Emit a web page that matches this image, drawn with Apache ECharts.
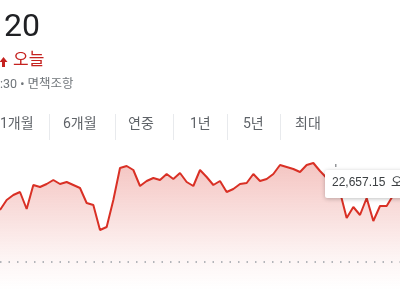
<!DOCTYPE html>
<html>
<head>
<meta charset="utf-8">
<script src="https://cdn.jsdelivr.net/npm/echarts@6/dist/echarts.min.js"></script>
<style>
html,body{margin:0;padding:0;background:#fff;}
#c{width:400px;height:300px;}
</style>
</head>
<body>
<div id="c"></div>
<script>
var categories = [];
for (var k = 0; k <= 60; k++) categories.push('t' + k);
var prices = [
  22500, 22600, 22650, 22680, 22510, 22750, 22730, 22760, 22800, 22760,
  22780, 22750, 22720, 22570, 22550, 22300, 22330, 22600, 22920, 22940,
  22900, 22740, 22790, 22820, 22800, 22860, 22810, 22870, 22780, 22740,
  22900, 22830, 22750, 22790, 22680, 22710, 22760, 22770, 22860, 22790,
  22810, 22860, 22950, 22930, 22910, 22880, 22950, 22970, 22890, 22820,
  22657.15, 22680, 22420, 22530, 22450, 22620, 22390, 22540, 22540, 22650,
  22630
];
var previousClose = 21980;
var hoverIndex = 50;
var headerValue = '20';
var changeLabel = '오늘';
var subLabel = ':30 • 면책조항';
var tabLabels = ['1개월', '6개월', '연중', '1년', '5년', '최대'];
var tabX = [0, 63, 128, 190, 243, 295];
var sepX = [49, 115, 173, 227, 280];
var tipSuffix = '오';

var FONT = 'Roboto, "Noto Sans CJK KR", sans-serif';
var TIPFONT = '"Liberation Sans", Arial, "Noto Sans CJK KR", sans-serif';
var chart = echarts.init(document.getElementById('c'), null, {renderer: 'canvas'});

function fmt(v) {
  return v.toLocaleString('en-US', {minimumFractionDigits: 2, maximumFractionDigits: 2});
}

var graphics = [
  {type: 'text', left: 4, top: 12, style: {text: headerValue, font: '32px ' + FONT, fill: '#202124'}, z: 10},
  {type: 'polygon', shape: {points: [[3.5, 57], [7.5, 62], [5, 62], [5, 67], [2, 67], [2, 62], [-0.5, 62]]}, style: {fill: '#c5221f'}, z: 10},
  {type: 'text', left: 13, top: 52, style: {text: changeLabel, font: '17px ' + FONT, fill: '#c5221f'}, z: 10},
  {type: 'text', left: 0, top: 79, style: {text: subLabel, font: '12.5px ' + FONT, fill: '#70757a'}, z: 10}
];
tabLabels.forEach(function (t, i) {
  graphics.push({type: 'text', left: tabX[i], top: 118, style: {text: t, font: '14px ' + FONT, fill: '#5f6368'}, z: 10});
});
sepX.forEach(function (x) {
  graphics.push({type: 'line', shape: {x1: x + 0.5, y1: 114, x2: x + 0.5, y2: 140}, style: {stroke: '#e8eaed', lineWidth: 1}, z: 10});
});

chart.setOption({
  animation: false,
  grid: {left: 0, right: 0, top: 160, bottom: 10},
  xAxis: {type: 'category', data: categories, boundaryGap: false, show: false},
  yAxis: {type: 'value', min: 21700, max: 23000, show: false, splitLine: {show: false}},
  graphic: graphics,
  series: [{
    type: 'line',
    data: prices,
    symbol: 'none',
    lineStyle: {color: '#d93025', width: 2},
    areaStyle: {
      color: new echarts.graphic.LinearGradient(0, 0, 0, 1, [
        {offset: 0, color: 'rgba(217,48,37,0.40)'},
        {offset: 0.75, color: 'rgba(217,48,37,0.07)'},
        {offset: 1, color: 'rgba(217,48,37,0)'}
      ])
    },
    markLine: {
      silent: true,
      symbol: 'none',
      label: {show: false},
      lineStyle: {color: '#9aa0a6', type: [1.5, 7], width: 1.5},
      data: [{yAxis: previousClose}]
    }
  }]
});

var p = chart.convertToPixel({gridIndex: 0}, [hoverIndex, prices[hoverIndex]]);
chart.setOption({
  graphic: graphics.concat([
    {type: 'line', shape: {x1: p[0] + 2.5, y1: 164, x2: p[0] + 2.5, y2: 167}, style: {stroke: '#5f6368', lineWidth: 1}, z: 20},
    {type: 'rect', shape: {x: 325, y: 170, width: 90, height: 28, r: 2}, style: {fill: '#fff', shadowBlur: 4, shadowColor: 'rgba(0,0,0,0.25)', shadowOffsetY: 1}, z: 20},
    {type: 'text', left: 332, top: 177, style: {text: fmt(prices[hoverIndex]), font: '12px ' + TIPFONT, fill: '#3c4043'}, z: 21},
    {type: 'text', left: 391, top: 176, style: {text: tipSuffix, font: '13px ' + FONT, fill: '#3c4043'}, z: 21}
  ])
});
</script>
</body>
</html>
